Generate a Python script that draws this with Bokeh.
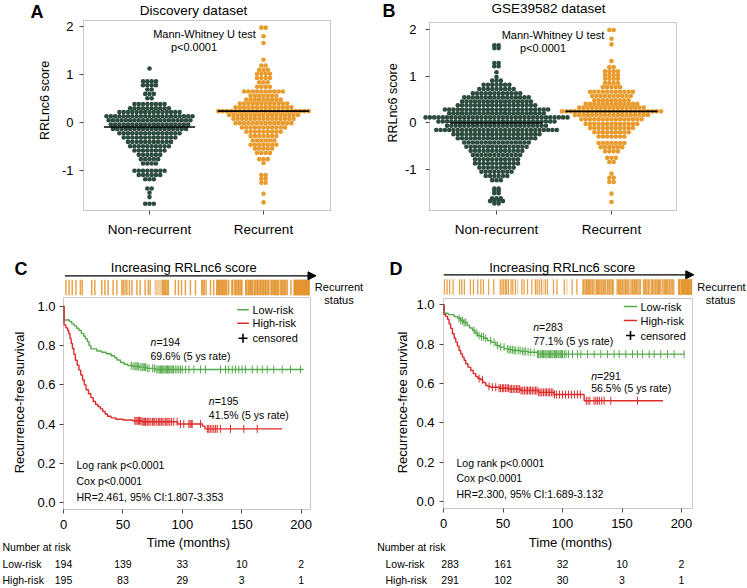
import numpy as np
from bokeh.plotting import figure
from bokeh.layouts import column, row
from bokeh.models import (Label, Arrow, NormalHead, FixedTicker, Range1d,
                          NumeralTickFormatter, BoxAnnotation)
from bokeh.embed import file_html
from bokeh.resources import INLINE

FONT = "Liberation Sans"
DOT_GREEN = "#2c4b3d"
DOT_ORANGE = "#e99b2d"
KM_GREEN = "#55a94a"
KM_RED = "#dd2b2b"
STRIP_COLOR = "#e3922a"
STRIP_PALE = "#f1c68e"
FRAME = "#4a4a4a"

# ---------------------------------------------------------------- data
categories = ["Non-recurrent", "Recurrent"]
score_ticks = [-1, 0, 1, 2]
score_tick_labels = {-1: "-1", 0: "0", 1: "1", 2: "2"}

# Panel A: Discovery dataset (beeswarm rows: score level, number of dots)
A_non_levels = [1.12, 0.85, 0.77, 0.68, 0.59, 0.50, 0.38, 0.29, 0.21, 0.125, 0.04, -0.05, -0.14,
                -0.23, -0.32, -0.41, -0.50, -0.59, -0.68, -0.77, -0.86, -1.01, -1.10, -1.19,
                -1.38, -1.47, -1.56, -1.70]
A_non_counts = [1, 4, 4, 2, 3, 2, 8, 10, 15, 21, 20, 19, 18, 15, 13, 11, 10, 8, 6, 5, 4, 8, 6, 3,
                2, 1, 1, 3]
A_rec_levels = [1.97, 1.79, 1.65, 1.30, 1.18, 1.09, 1.01, 0.92, 0.83, 0.74, 0.64, 0.55, 0.47, 0.39,
                0.31, 0.23, 0.15, 0.07, -0.02, -0.11, -0.20, -0.29, -0.38, -0.47, -0.55, -0.64,
                -0.77, -0.85, -1.10, -1.18, -1.26, -1.49, -1.67]
A_rec_counts = [2, 1, 1, 1, 2, 3, 4, 4, 3, 4, 10, 7, 9, 12, 14, 22, 17, 15, 14, 11, 9, 7, 6, 7, 5, 4,
                3, 1, 2, 2, 2, 1, 1]
A_medians = [-0.10, 0.23]

# Panel B: GSE39582 dataset
B_non_levels = [1.66, 1.60, 1.28, 1.21, 1.08, 0.98, 0.90, 0.81, 0.72, 0.63, 0.54, 0.45, 0.37, 0.28,
                0.20, 0.11, 0.02, -0.07, -0.16, -0.25, -0.34, -0.43, -0.52, -0.61, -0.70, -0.79,
                -0.88, -0.97, -1.06, -1.15, -1.24, -1.42, -1.47, -1.52, -1.63, -1.69, -1.74]
B_non_counts = [2, 2, 2, 2, 1, 1, 3, 7, 9, 12, 16, 17, 19, 25, 23, 34, 28, 24, 29, 21, 19, 16, 15,
                13, 12, 11, 11, 9, 8, 6, 3, 2, 2, 2, 3, 4, 2]
B_rec_levels = [1.99, 1.80, 1.68, 1.32, 1.19, 1.10, 1.02, 0.94, 0.85, 0.76, 0.66, 0.57, 0.48, 0.40,
                0.32, 0.24, 0.16, 0.07, -0.03, -0.12, -0.21, -0.30, -0.44, -0.53, -0.62, -0.76,
                -0.85, -1.10, -1.19, -1.28, -1.53, -1.71]
B_rec_counts = [2, 1, 1, 1, 2, 4, 4, 4, 4, 5, 11, 10, 9, 13, 16, 24, 18, 15, 13, 11, 9, 7, 7, 6, 4,
                3, 2, 1, 2, 2, 1, 1]
B_medians = [-0.01, 0.24]

# Kaplan-Meier panels
time_ticks = [0, 50, 100, 150, 200]
surv_ticks = [0.0, 0.2, 0.4, 0.6, 0.8, 1.0]

C_low_t = [0, 0.5, 5, 7, 9, 11, 13, 15, 17, 18.5, 20, 21.5, 23, 28, 32, 36, 40, 43, 45, 48, 51,
           54, 58, 64, 70, 77, 202]
C_low_s = [1.0, 0.93, 0.922, 0.91, 0.90, 0.888, 0.877, 0.862, 0.847, 0.835, 0.82, 0.80, 0.783,
           0.772, 0.766, 0.758, 0.748, 0.738, 0.726, 0.714, 0.705, 0.698, 0.694, 0.69, 0.684,
           0.678, 0.678]
C_high_t = [0, 0.5, 2, 3.5, 4.5, 5.5, 6.5, 7.5, 8.7, 10, 11.5, 13, 14.5, 16, 17.5, 19, 21, 23, 25,
            27, 29, 31, 33, 35, 37, 40, 44, 50, 58, 66, 96, 117, 119, 184]
C_high_s = [1.0, 0.905, 0.89, 0.875, 0.86, 0.835, 0.81, 0.785, 0.755, 0.725, 0.70, 0.675, 0.65,
            0.625, 0.60, 0.575, 0.555, 0.535, 0.515, 0.50, 0.49, 0.478, 0.465, 0.452, 0.44,
            0.432, 0.425, 0.421, 0.417, 0.412, 0.401, 0.39, 0.376, 0.376]
C_low_cens = [57, 58.5, 60, 61, 62, 63, 64.5, 66, 67, 68, 69, 70.5, 72, 75, 76.5, 78, 79.5, 80.5,
              81.5, 82.5, 83.5, 84.5, 85.5, 86.5, 87.5, 88.5, 89.5, 90.5, 91.5, 92.5, 94, 95.5,
              97, 98.5, 100, 102.6, 105.5, 109.7, 115.3, 119.5, 132.1, 136.3, 139, 142, 144.7,
              147.5, 150.3, 153.1, 158.8, 163, 167.2, 171.4, 176.9, 184, 191, 199.4]
C_high_cens = [60, 61, 62, 63, 64, 65, 66.2, 67, 68, 69, 70.3, 71, 72, 73.5, 75, 76, 77, 78.5, 80,
               81, 82.2, 83, 84.5, 86, 87, 88, 89.5, 91, 92.8, 95.6, 98.4, 101.2, 105.5, 106.5,
               107.5, 108.3, 115.3, 121, 122.2, 123.5, 125, 126.5, 128, 129.3, 132, 140.5, 151.7,
               163]
C_risk_low = [194, 139, 33, 10, 2]
C_risk_high = [195, 83, 29, 3, 1]
C_n = [194, 195]
C_rate = ["69.6% (5 ys rate)", "41.5% (5 ys rate)"]
C_stats = ["Log rank p<0.0001", "Cox p<0.0001", "HR=2.461, 95% CI:1.807-3.353"]
C_strip_n = 389
C_strip_rec = [2, 7, 12, 18, 25, 28, 43, 48, 59, 64, 69, 77, 83, 91, 93, 96, 99, 103, 107, 115,
               120, 128, 133, 136, 144, 146, 148, 150, 152, 155, 157, 159, 161, 163, 165, 176,
               181, 186, 192, 200, 208, 218, 220, 222, 225, 232, 237, 242, 243, 245, 246, 248,
               250, 251, 253, 255, 256, 258, 261, 266, 267, 269, 271, 272, 274, 276, 277, 279,
               281, 282, 288, 289, 291, 292, 294, 296, 297, 299, 301, 302, 304, 306, 307, 309,
               311, 312, 314, 316, 317, 319, 320, 322, 324, 325, 327, 329, 330, 332, 334, 335,
               337, 339, 340, 342, 344, 345, 347, 349, 350, 352, 354, 360, 365, 366, 367, 368,
               369, 370, 371, 372, 373, 374, 375, 376, 377, 378, 379, 380, 381, 382, 383, 384,
               385, 386, 387, 388, 389]
C_strip_pale = [144, 146, 148, 150, 152, 269, 291, 301, 327, 342]

D_low_t = [0, 0.5, 4, 9, 12, 14.5, 17, 20, 22, 24.4, 26.5, 28.6, 31, 34, 37, 40, 44, 47, 51, 55,
           58, 65, 71, 79, 203]
D_low_s = [1.0, 0.957, 0.95, 0.94, 0.93, 0.92, 0.91, 0.895, 0.882, 0.869, 0.857, 0.844, 0.838,
           0.83, 0.818, 0.81, 0.793, 0.785, 0.776, 0.772, 0.768, 0.763, 0.759, 0.749, 0.749]
D_high_t = [0, 0.5, 2, 3.5, 4.7, 6, 7.5, 9, 10.3, 11.7, 13.1, 14.5, 15.9, 17.3, 18.7, 20.5, 22.9,
            25, 27.1, 29, 31.3, 33, 35.5, 37.5, 39.7, 46.7, 55, 65, 80, 93, 118.2, 184.5]
D_high_s = [1.0, 0.95, 0.94, 0.925, 0.903, 0.88, 0.853, 0.83, 0.81, 0.79, 0.768, 0.75, 0.734,
            0.718, 0.70, 0.683, 0.666, 0.65, 0.635, 0.625, 0.619, 0.605, 0.59, 0.585, 0.581,
            0.576, 0.572, 0.564, 0.555, 0.544, 0.512, 0.512]
D_low_cens = [13.1, 14.5, 15.9, 17.3, 18.7, 25.7, 28, 29.9, 31.9, 33.6, 35.5, 39.7, 42.5, 45.3,
              48.1, 50.9, 53.7, 55.1, 56.5, 57.9, 59.3, 60.7, 62.7, 64.4, 66.3, 67.7, 69.1, 71.1,
              73.3, 76.2, 79, 80, 81.2, 82, 83.1, 84, 85.2, 86, 87.1, 88, 89.2, 90, 91.1, 92,
              93.2, 94, 95, 96.2, 97, 98.1, 99, 100, 101.5, 103, 105, 108.4, 112.6, 115.4, 121,
              126.6, 132.2, 137.8, 143.4, 147.6, 153.2, 158.8, 163, 167.2, 172.8, 177, 182.6,
              188.2, 193.8, 202.2]
D_high_cens = [29.9, 32.7, 38.3, 41.1, 43.9, 46.7, 48, 49.5, 50.6, 52, 53.4, 54.6, 56, 57.2, 58.6,
               60, 61.4, 62.6, 64, 65.2, 66.6, 68, 69.4, 70.6, 72, 73.2, 74.6, 76, 77.4, 78.6,
               80, 81.2, 82.6, 84, 85.4, 86.6, 88, 89.2, 90.6, 92, 93.3, 95, 97.5, 100, 102.5,
               105, 107.5, 110, 112.5, 115, 120, 121.5, 123, 126.5, 128, 129.5, 131, 133, 135,
               140.6, 163]
D_risk_low = [283, 161, 32, 10, 2]
D_risk_high = [291, 102, 30, 3, 1]
D_n = [283, 291]
D_rate = ["77.1% (5 ys rate)", "56.5% (5 ys rate)"]
D_stats = ["Log rank p<0.0001", "Cox p<0.0001", "HR=2.300, 95% CI:1.689-3.132"]
D_strip_n = 574
D_strip_rec = [2, 8, 14, 22, 37, 42, 48, 62, 69, 79, 86, 92, 104, 116, 131, 135, 139, 143, 146,
               150, 156, 160, 166, 171, 181, 186, 194, 204, 212, 216, 221, 226, 230, 235, 240,
               254, 262, 279, 285, 297, 308, 322, 324, 327, 330, 332, 335, 337, 340, 343, 345,
               348, 350, 353, 356, 358, 361, 364, 366, 369, 371, 374, 377, 379, 382, 384, 387,
               390, 392, 401, 404, 406, 409, 412, 414, 417, 420, 422, 425, 428, 430, 433, 436,
               438, 441, 444, 446, 449, 452, 455, 462, 465, 467, 470, 473, 475, 478, 481, 483,
               486, 489, 491, 494, 497, 499, 502, 505, 507, 510, 513, 515, 518, 521, 523, 526,
               529, 532, 543, 545, 546, 548, 549, 551, 552, 554, 555, 557, 558, 560, 561, 563,
               564, 566, 567, 569, 570, 572, 573]
D_strip_pale = [171, 230, 285, 350, 377, 430, 478, 505, 548]


# ---------------------------------------------------------------- helpers
def px_map(p0, v0, p1, v1):
    """Linear map from page pixels to data units (layout helper)."""
    k = (v1 - v0) / (p1 - p0)
    return lambda px: v0 + (px - p0) * k


def base_fig(w, h, X, Y, x0, y0):
    """Figure whose frame fills its canvas; axes are pinned inside with fixed_location."""
    p = figure(width=w, height=h, title=None,
               x_range=Range1d(X(x0), X(x0 + w)), y_range=Range1d(Y(y0 + h), Y(y0)),
               output_backend="svg", toolbar_location=None,
               min_border_left=0, min_border_right=0, min_border_top=0, min_border_bottom=0)
    p.outline_line_color = None
    p.xgrid.visible = False
    p.ygrid.visible = False
    p.background_fill_color = "white"
    p.border_fill_color = "white"
    for ax in (p.xaxis[0], p.yaxis[0]):
        ax.major_label_text_font = FONT
        ax.major_label_text_font_size = "13px"
        ax.major_label_text_color = "black"
        ax.major_tick_in = 0
        ax.major_tick_out = 4
        ax.minor_tick_in = 0
        ax.minor_tick_out = 0
        ax.major_tick_line_color = FRAME
        ax.axis_line_color = None
    return p


def lab(p, x, y, text, size="10.5px", align="left", style="normal", angle=0.0):
    p.add_layout(Label(x=x, y=y, text=text, text_font=FONT, text_font_size=size,
                       text_align=align, text_baseline="middle", text_font_style=style,
                       text_color="black", angle=angle))


def swarm_xy(levels, counts, center, step):
    xs, ys = [], []
    for lv, n in zip(levels, counts):
        for i in range(n):
            xs.append(center + (i - (n - 1) / 2) * step)
            ys.append(lv)
    return xs, ys


def swarm_panel(cfg, non_lv, non_ct, rec_lv, rec_ct, medians, letter, title):
    X, Y = cfg["X"], cfg["Y"]
    fl, fr, ft, fb = cfg["box"]
    t = cfg["txt"]
    p = base_fig(cfg["w"], 260, X, Y, cfg["ox"], 0)
    p.xaxis.fixed_location = Y(fb)
    p.yaxis.fixed_location = X(fl)
    p.xaxis.ticker = FixedTicker(ticks=[1, 2])
    p.xaxis.major_label_overrides = {1: categories[0], 2: categories[1]}
    p.xaxis.major_label_text_font_size = "13.5px"
    p.xaxis.major_label_standoff = 7
    p.yaxis.ticker = FixedTicker(ticks=score_ticks)
    p.yaxis.major_label_overrides = score_tick_labels
    p.yaxis.major_label_standoff = cfg["ls"]
    p.add_layout(BoxAnnotation(left=X(fl), right=X(fr), bottom=Y(fb), top=Y(ft),
                               fill_color=None, line_color=FRAME, line_width=1))
    step = 4.3 * (X(fl + 1) - X(fl))
    xs, ys = swarm_xy(non_lv, non_ct, 1, step)
    p.scatter(xs, ys, size=4.6, fill_color=DOT_GREEN, line_color=None)
    xs, ys = swarm_xy(rec_lv, rec_ct, 2, step)
    p.scatter(xs, ys, size=4.6, fill_color=DOT_ORANGE, line_color=None)
    p.segment(x0=[0.6, 1.6], y0=medians, x1=[1.4, 2.4], y1=medians,
              line_color="black", line_width=1.6)
    lab(p, X(t["letter"][0]), Y(t["letter"][1]), letter, size="18px", style="bold")
    lab(p, X(t["title"][0]), Y(t["title"][1]), title, size="13.5px", align="center")
    lab(p, X(t["mw"][0]), Y(t["mw"][1]), "Mann-Whitney U test", size="11px", align="center")
    lab(p, X(t["p"][0]), Y(t["p"][1]), "p<0.0001", size="11px", align="center")
    lab(p, X(t["ylab"][0]), Y(t["ylab"][1]), "RRLnc6 score", size="12.5px", align="center",
        angle=np.pi / 2)
    return p


def surv_at(t, s, c):
    idx = np.searchsorted(np.asarray(t), np.asarray(c), side="right") - 1
    return np.asarray(s)[idx]


def km_panel(cfg, low_t, low_s, high_t, high_s, low_c, high_c, risk_low, risk_high,
             n_vals, rates, stats, strip_rec, strip_pale, letter):
    X, Y, R = cfg["X"], cfg["Y"], cfg["R"]
    ox, w = cfg["ox"], cfg["w"]
    fl, fr, ft, fb = cfg["box"]
    t = cfg["txt"]
    p = base_fig(w, 328, X, Y, ox, 260)
    p.xaxis.fixed_location = Y(fb)
    p.yaxis.fixed_location = X(fl)
    p.xaxis.ticker = FixedTicker(ticks=time_ticks)
    p.xaxis.major_label_standoff = 6
    p.yaxis.ticker = FixedTicker(ticks=surv_ticks)
    p.yaxis.formatter = NumeralTickFormatter(format="0.0")
    p.yaxis.major_label_standoff = cfg["ls"]
    p.extra_x_ranges = {"rank": Range1d(R(ox), R(ox + w))}

    p.add_layout(BoxAnnotation(left=X(fl), right=X(fr), bottom=Y(fb), top=Y(ft),
                               fill_color=None, line_color=FRAME, line_width=1))

    # header: letter, arrow and caption
    lab(p, X(t["letter"][0]), Y(t["letter"][1]), letter, size="18px", style="bold")
    lab(p, X(t["inc"][0]), Y(t["inc"][1]), "Increasing RRLnc6 score", size="13px", align="center")
    p.add_layout(Arrow(end=NormalHead(size=8, fill_color="black", line_color="black"),
                       x_start=X(t["arrow"][0]), y_start=Y(t["arrow"][2]),
                       x_end=X(t["arrow"][1]), y_end=Y(t["arrow"][2]),
                       line_color="black", line_width=1.3))

    # recurrence strip (samples ordered by score)
    cols = [STRIP_PALE if r in strip_pale else STRIP_COLOR for r in strip_rec]
    y0, y1 = Y(cfg["strip"][0]), Y(cfg["strip"][1])
    p.segment(x0=strip_rec, y0=[y0] * len(strip_rec), x1=strip_rec, y1=[y1] * len(strip_rec),
              x_range_name="rank", line_color=cols, line_width=cfg["slw"], line_alpha=0.85)
    lab(p, X(t["rec"][0]), Y(t["rec"][1]), "Recurrent", size="11px", align="center")
    lab(p, X(t["rec"][2]), Y(t["rec"][3]), "status", size="11px", align="center")

    # survival curves with censoring ticks
    d = 4.0 * (Y(0) - Y(1))
    for tt, ss, cc, col in ((low_t, low_s, low_c, KM_GREEN), (high_t, high_s, high_c, KM_RED)):
        p.step(tt, ss, mode="after", line_color=col, line_width=1.4)
        sc = surv_at(tt, ss, cc)
        p.segment(x0=cc, y0=sc - d, x1=cc, y1=sc + d, line_color=col, line_width=1)

    # legend
    lg = t["legend"]
    p.segment(x0=[X(lg[0])] * 2, y0=[Y(lg[3]), Y(lg[4])], x1=[X(lg[1])] * 2,
              y1=[Y(lg[3]), Y(lg[4])], line_color=[KM_GREEN, KM_RED], line_width=1.4)
    p.scatter([X((lg[0] + lg[1]) / 2)], [Y(lg[5])], marker="cross", size=9,
              line_color="black", line_width=1.6)
    lab(p, X(lg[2]), Y(lg[3]), "Low-risk", size="11px")
    lab(p, X(lg[2]), Y(lg[4]), "High-risk", size="11px")
    lab(p, X(lg[2]), Y(lg[5]), "censored", size="11px")

    for (nx, ny, ry), n, rate in zip(t["nrate"], n_vals, rates):
        lab(p, X(nx), Y(ny), "n", style="italic")
        lab(p, X(nx + 5.9), Y(ny), "=%d" % n)
        lab(p, X(nx), Y(ry), rate)
    for sy, s in zip(t["stats"][1:], stats):
        lab(p, X(t["stats"][0]), Y(sy), s)

    # axis titles
    lab(p, X(t["ylab"][0]), Y(t["ylab"][1]), "Recurrence-free survival", size="13px",
        align="center", angle=np.pi / 2)
    lab(p, X(t["xlab"][0]), Y(t["xlab"][1]), "Time (months)", size="13px", align="center")

    # number at risk table
    tb = t["table"]
    lab(p, X(tb[0]), Y(tb[2]), "Number at risk")
    lab(p, X(tb[1]), Y(tb[3]), "Low-risk")
    lab(p, X(tb[1]), Y(tb[4]), "High-risk")
    for i, tm in enumerate(time_ticks):
        xx = tm + (tb[5] if i == 0 else 0)
        lab(p, xx, Y(tb[3]), str(risk_low[i]), align="center")
        lab(p, xx, Y(tb[4]), str(risk_high[i]), align="center")
    return p


# ---------------------------------------------------------------- panels (page-pixel layout)
cfgA = dict(w=370, ox=0, box=(83, 330, 20, 210), ls=6,
            X=px_map(149, 1, 263, 2), Y=px_map(121.7, 0, 73.7, 1),
            txt=dict(letter=(30, 11.7), title=(193, 9.5), mw=(204, 33), p=(193.5, 46),
                     ylab=(44, 100)))
cfgB = dict(w=377, ox=370, box=(429, 676, 22, 210), ls=9,
            X=px_map(496, 1, 611, 2), Y=px_map(122, 0, 75.5, 1),
            txt=dict(letter=(382, 10.3), title=(548, 8), mw=(552.5, 34), p=(542.5, 47.5),
                     ylab=(392.5, 102.5)))

pA = swarm_panel(cfgA, A_non_levels, A_non_counts, A_rec_levels, A_rec_counts, A_medians,
                 "A", "Discovery dataset")
pB = swarm_panel(cfgB, B_non_levels, B_non_counts, B_rec_levels, B_rec_counts, B_medians,
                 "B", "GSE39582 dataset")

cfgC = dict(w=370, ox=0, box=(63, 310, 297, 509), ls=4, strip=(294.7, 279.3), slw=1.5,
            X=px_map(63, 0, 300.7, 200), Y=px_map(502.3, 0, 305.7, 1),
            R=px_map(64.5, 0.5, 309, C_strip_n + 0.5),
            txt=dict(arrow=(64.5, 315.5, 275.3), inc=(183.3, 267),
                     rec=(338.5, 286, 338.5, 299.5), letter=(14, 268.5),
                     legend=(236.7, 248.3, 252, 309.3, 322.7, 337.7),
                     nrate=[(150, 341.7, 355), (208.3, 400, 414.3)],
                     stats=(76, 464.3, 480.7, 496.7),
                     ylab=(19, 402), xlab=(188, 542),
                     table=(2, 2, 546, 563.3, 579.3, 0)))
cfgD = dict(w=377, ox=370, box=(443, 692, 298, 508), ls=5, strip=(294.3, 278.7), slw=1.3,
            X=px_map(443, 0, 681, 200), Y=px_map(501, 0, 304.3, 1),
            R=px_map(443.3, 0.5, 691.7, D_strip_n + 0.5),
            txt=dict(arrow=(443.3, 693.3, 274.3), inc=(561.7, 267),
                     rec=(721, 286, 720, 299.5), letter=(389, 268.5),
                     legend=(623.3, 636.7, 640, 306, 320, 335),
                     nrate=[(532.7, 326, 340), (590.7, 375, 387.7)],
                     stats=(456, 462.3, 477.7, 493.3),
                     ylab=(401.5, 402), xlab=(570, 541.7),
                     table=(376.7, 385, 546, 563.3, 579.7, 5.5)))

pC = km_panel(cfgC, C_low_t, C_low_s, C_high_t, C_high_s, C_low_cens, C_high_cens,
              C_risk_low, C_risk_high, C_n, C_rate, C_stats, C_strip_rec, C_strip_pale, "C")
pD = km_panel(cfgD, D_low_t, D_low_s, D_high_t, D_high_s, D_low_cens, D_high_cens,
              D_risk_low, D_risk_high, D_n, D_rate, D_stats, D_strip_rec, D_strip_pale, "D")

layout = column(row(pA, pB, spacing=0), row(pC, pD, spacing=0), spacing=0)
open("out.html", "w").write(file_html(layout, INLINE, "RRLnc6"))
